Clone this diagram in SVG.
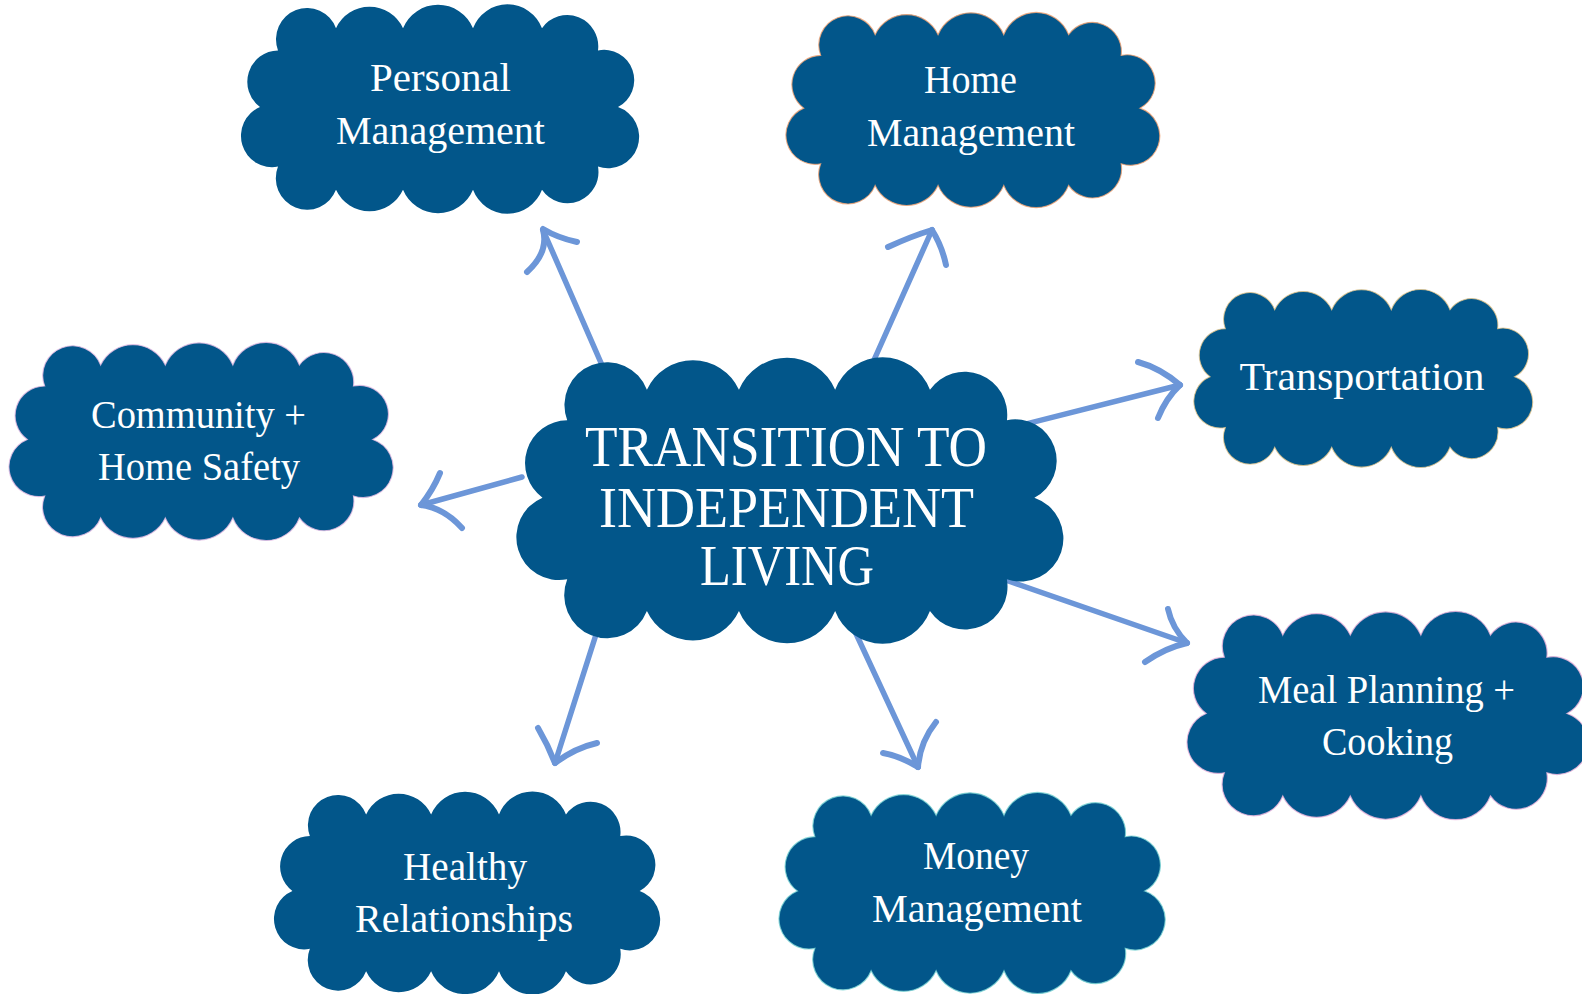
<svg xmlns="http://www.w3.org/2000/svg" xmlns:xlink="http://www.w3.org/1999/xlink" width="1582" height="994" viewBox="0 0 1582 994">
  <style>
    .cloud { fill: #02568a; }
    .rim { stroke-width: 1.2; vector-effect: non-scaling-stroke; stroke-opacity: 0.8; }
    .label { font-family: "Liberation Serif", "DejaVu Serif", serif; font-size: 40px; fill: #ffffff; text-anchor: middle; }
    .title { font-family: "Liberation Serif", "DejaVu Serif", serif; font-size: 58px; fill: #ffffff; text-anchor: middle; }
    .conn path { fill: none; stroke: #6c96d8; stroke-width: 5.5; stroke-linecap: round; stroke-linejoin: round; }
    .conn path.barb { stroke-width: 6; }
  </style>
  <defs>
    <!-- cloud outline, 396 x 206 box, scaled per node -->
    <path id="cloud" d="M38,45 A31,31 0 0 1 96,23 A37,37 0 0 1 163,23 A38,38 0 0 1 233,23 A37,37 0 0 1 302,23 A31,31 0 0 1 358,45 A30,30 0 0 1 378,101 A31,31 0 0 1 358,160 A31,31 0 0 1 302,183 A37,37 0 0 1 233,183 A38,38 0 0 1 163,183 A37,37 0 0 1 96,183 A31,31 0 0 1 38,160 A31,31 0 0 1 20,101 A31,31 0 0 1 38,45 Z"/>
  </defs>
  <rect width="1582" height="994" fill="#ffffff"/>

  <!-- connectors from the centre outwards, drawn under the clouds -->
  <g id="connectors" class="conn">
    <path d="M605,372 L543,230"/>
    <path class="barb" d="M543,229 Q558,238 577,242"/>
    <path class="barb" d="M543,230 Q549,252 527,272"/>

    <path d="M522,477 L421,505"/>
    <path class="barb" d="M421,505 Q433,490 440,473"/>
    <path class="barb" d="M421,505 Q444,508 462,528"/>

    <path d="M874,360 L932,230"/>
    <path class="barb" d="M932,230 Q912,236 888,247"/>
    <path class="barb" d="M932,230 Q942,246 946,265"/>

    <path d="M1010,428 L1180,385"/>
    <path class="barb" d="M1180,385 Q1160,368 1138,362"/>
    <path class="barb" d="M1180,385 Q1166,398 1158,418"/>

    <path d="M1000,578 L1187,643"/>
    <path class="barb" d="M1187,643 Q1172,628 1168,609"/>
    <path class="barb" d="M1187,643 Q1165,648 1145,662"/>

    <path d="M600,622 L555,763"/>
    <path class="barb" d="M555,763 Q548,745 538,728"/>
    <path class="barb" d="M555,763 Q575,748 597,743"/>

    <path d="M852,625 L918,767"/>
    <path class="barb" d="M918,767 Q900,756 883,753"/>
    <path class="barb" d="M918,767 Q920,742 936,722"/>
  </g>

  <g id="node-center">
    <use xlink:href="#cloud" class="cloud" transform="translate(515,358) scale(1.374,1.383)"/>
    <text class="title" x="786" y="466" textLength="402" lengthAdjust="spacingAndGlyphs">TRANSITION TO</text>
    <text class="title" x="786.5" y="527" textLength="375" lengthAdjust="spacingAndGlyphs">INDEPENDENT</text>
    <text class="title" x="787" y="585" textLength="174" lengthAdjust="spacingAndGlyphs">LIVING</text>
  </g>

  <g id="node-personal">
    <use xlink:href="#cloud" class="cloud" transform="translate(240,5) scale(1,1.01)"/>
    <text class="label" x="440.5" y="91" textLength="141" lengthAdjust="spacingAndGlyphs">Personal</text>
    <text class="label" x="440.5" y="144" textLength="209" lengthAdjust="spacingAndGlyphs">Management</text>
  </g>

  <g id="node-home">
    <use xlink:href="#cloud" class="cloud rim" stroke="#f0a070" transform="translate(785,13) scale(0.939,0.942)"/>
    <text class="label" x="970.5" y="93" textLength="93" lengthAdjust="spacingAndGlyphs">Home</text>
    <text class="label" x="971" y="146" textLength="208" lengthAdjust="spacingAndGlyphs">Management</text>
  </g>

  <g id="node-transportation">
    <use xlink:href="#cloud" class="cloud rim" stroke="#e2c48a" transform="translate(1193,290) scale(0.851,0.859)"/>
    <text class="label" x="1362" y="390" textLength="245" lengthAdjust="spacingAndGlyphs">Transportation</text>
  </g>

  <g id="node-community">
    <use xlink:href="#cloud" class="cloud rim" stroke="#e4bce4" transform="translate(8,343) scale(0.965,0.956)"/>
    <text class="label" x="198.5" y="428" textLength="215" lengthAdjust="spacingAndGlyphs">Community +</text>
    <text class="label" x="199" y="480" textLength="202" lengthAdjust="spacingAndGlyphs">Home Safety</text>
  </g>

  <g id="node-meal">
    <use xlink:href="#cloud" class="cloud rim" stroke="#eab4dc" transform="translate(1186,612) scale(1.008,1.005)"/>
    <text class="label" x="1386.5" y="703" textLength="257" lengthAdjust="spacingAndGlyphs">Meal Planning +</text>
    <text class="label" x="1387.5" y="755" textLength="131" lengthAdjust="spacingAndGlyphs">Cooking</text>
  </g>

  <g id="node-healthy">
    <use xlink:href="#cloud" class="cloud" transform="translate(273,792) scale(0.97,0.98)"/>
    <text class="label" x="465" y="880" textLength="124" lengthAdjust="spacingAndGlyphs">Healthy</text>
    <text class="label" x="464" y="932" textLength="218" lengthAdjust="spacingAndGlyphs">Relationships</text>
  </g>

  <g id="node-money">
    <use xlink:href="#cloud" class="cloud rim" stroke="#78d2d2" transform="translate(778,793) scale(0.97,0.971)"/>
    <text class="label" x="976" y="869" textLength="106" lengthAdjust="spacingAndGlyphs">Money</text>
    <text class="label" x="977" y="922" textLength="210" lengthAdjust="spacingAndGlyphs">Management</text>
  </g>
</svg>
